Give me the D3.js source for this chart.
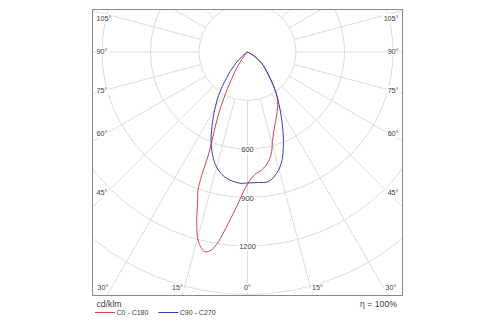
<!DOCTYPE html>
<html>
<head>
<meta charset="utf-8">
<script src="https://cdn.jsdelivr.net/npm/d3@7/dist/d3.min.js"></script>
<style>
  html, body { margin: 0; padding: 0; background: #fff; }
  svg { display: block; font-family: "Liberation Sans", Arial, sans-serif; }
</style>
</head>
<body>
<svg id="chart" width="500" height="325"></svg>
<script>
// ---- data (cd/klm), gamma in degrees from nadir ----
const gammaC0   = [0, 3.5, 6.9, 10.7, 13.6, 15.5, 19.4, 24.9, 31.3, 35.4, 40.5, 47, 51.5, 57.9, 63, 68];
const valuesC0  = [816, 758, 735, 691, 635, 576, 500, 429, 360, 301, 214, 148, 112, 55, 20, 0];
const gammaC180  = [0, 1.7, 3.5, 6.4, 8.75, 10.3, 12, 14.5, 16.5, 18.6, 19.7, 20.35, 20.8, 22.4, 24.9, 27.6, 31.7, 35, 38, 42, 46];
const valuesC180 = [816, 864, 937, 1066, 1188, 1244, 1263, 1212, 1105, 966, 907, 818, 682, 555, 429, 300, 167, 100, 45, 15, 0];
const gammaC90   = [0, 4.8, 9.1, 13.5, 17.3, 20.4, 23.3, 28.0, 34.2, 39.2, 47, 51.5, 57.9, 63, 68];
const valuesC90  = [810, 810, 812, 772, 711, 635, 559, 441, 321, 237, 148, 112, 55, 20, 0];
const gammaC270  = [0, 3.3, 9.35, 13.9, 17.8, 22.1, 25.1, 30.0, 34.7, 41.6, 46, 51, 56, 61];
const valuesC270 = [810, 813, 792, 752, 691, 599, 521, 402, 299, 163, 100, 46, 15, 0];

const circleValues = [300, 600, 900, 1200, 1500];
const circleLabels = ["600", "900", "1200"];
const sideAngleLabels = ["105°", "90°", "75°", "60°", "45°"];
const bottomAngleLabels = ["30°", "15°", "0°", "15°", "30°"];
const seriesNames = ["C0 - C180", "C90 - C270"];
const unitLabel = "cd/klm";
const etaLabel = "η = 100%";

// ---- layout ----
const frame = { x0: 92.5, y0: 9.5, x1: 402.5, y1: 295.5 };
const cx = 247.5, cy = 52;
const r = d3.scaleLinear().domain([0, 1500]).range([0, 242.5]);
const colors = { red: "#d2444c", blue: "#3b3bb5", grid: "#dcdcdc", text: "#3a3a3a" };

const svg = d3.select("#chart");
svg.append("defs").append("clipPath").attr("id", "clip")
  .append("rect").attr("x", frame.x0).attr("y", frame.y0)
  .attr("width", frame.x1 - frame.x0).attr("height", frame.y1 - frame.y0);

const plot = svg.append("g").attr("clip-path", "url(#clip)");
const g = plot.append("g").attr("transform", `translate(${cx},${cy})`);

// grid circles
g.selectAll("circle.grid").data(circleValues).join("circle")
  .attr("r", d => r(d)).attr("fill", "none")
  .attr("stroke", colors.grid).attr("stroke-width", 1);

// radial lines every 15°
const spokes = d3.range(0, 360, 15);
g.selectAll("line.spoke").data(spokes).join("line")
  .attr("x1", d => r(300) * Math.sin(d * Math.PI / 180))
  .attr("y1", d => r(300) * Math.cos(d * Math.PI / 180))
  .attr("x2", d => r(2200) * Math.sin(d * Math.PI / 180))
  .attr("y2", d => r(2200) * Math.cos(d * Math.PI / 180))
  .attr("stroke", colors.grid).attr("stroke-width", 1);

// curves
function planePoints(gR, vR, gL, vL) {
  const pts = [];
  for (let i = gR.length - 1; i >= 0; i--) pts.push({ a: Math.PI - gR[i] * Math.PI / 180, v: vR[i] });
  for (let i = 1; i < gL.length; i++) pts.push({ a: Math.PI + gL[i] * Math.PI / 180, v: vL[i] });
  return pts;
}
const radial = d3.lineRadial().angle(d => d.a).radius(d => r(d.v))
  .curve(d3.curveCatmullRom.alpha(0.5));

// labels on circles
function labelWithBg(parent, x, y, text, anchor, size) {
  const t = parent.append("text").attr("x", x).attr("y", y)
    .attr("text-anchor", anchor).attr("dominant-baseline", "central")
    .attr("font-size", size).attr("fill", colors.text).text(text);
  const b = t.node().getBBox();
  parent.insert("rect", () => t.node())
    .attr("x", b.x - 1).attr("y", b.y).attr("width", b.width + 2).attr("height", b.height)
    .attr("fill", "#fff");
  return t;
}

const labelLayer = svg.append("g");
circleLabels.forEach(l => labelWithBg(labelLayer, cx, cy + r(+l) + 0.5, l, "middle", 7.5));

const sideY = [18.3, 51.8, 90, 133.3, 192.3];
sideAngleLabels.forEach((l, i) => {
  labelWithBg(labelLayer, 96.5, sideY[i], l, "start", 7.2);
  labelWithBg(labelLayer, 398.5, sideY[i], l, "end", 7.2);
});
const bottomX = [103, 177.5, 247.5, 317.5, 391];
bottomAngleLabels.forEach((l, i) => labelWithBg(labelLayer, bottomX[i], 287.5, l, "middle", 7.2));

// curves drawn above grid/labels
const curves = svg.append("g").attr("clip-path", "url(#clip)")
  .append("g").attr("transform", `translate(${cx},${cy})`);
curves.append("path").datum(planePoints(gammaC0, valuesC0, gammaC180, valuesC180))
  .attr("d", radial).attr("fill", "none").attr("stroke", colors.red).attr("stroke-width", 1);
curves.append("path").datum(planePoints(gammaC90, valuesC90, gammaC270, valuesC270))
  .attr("d", radial).attr("fill", "none").attr("stroke", colors.blue).attr("stroke-width", 1);

// frame
svg.append("rect").attr("x", frame.x0).attr("y", frame.y0)
  .attr("width", frame.x1 - frame.x0).attr("height", frame.y1 - frame.y0)
  .attr("fill", "none").attr("stroke", "#8a8a8a").attr("stroke-width", 1);

// unit + efficiency
svg.append("text").attr("x", 96.5).attr("y", 307).attr("font-size", 8.7)
  .attr("fill", colors.text).text(unitLabel);
svg.append("text").attr("x", 397).attr("y", 307).attr("text-anchor", "end")
  .attr("font-size", 8.7).attr("fill", colors.text).text(etaLabel);

// legend
const legendX = [95, 158.3];
const legendColors = [colors.red, colors.blue];
seriesNames.forEach((name, i) => {
  svg.append("line").attr("x1", legendX[i]).attr("x2", legendX[i] + 20)
    .attr("y1", 312.5).attr("y2", 312.5)
    .attr("stroke", legendColors[i]).attr("stroke-width", 1);
  svg.append("text").attr("x", legendX[i] + 21.5).attr("y", 315.3)
    .attr("font-size", 7).attr("fill", colors.text).text(name);
});
</script>
</body>
</html>
